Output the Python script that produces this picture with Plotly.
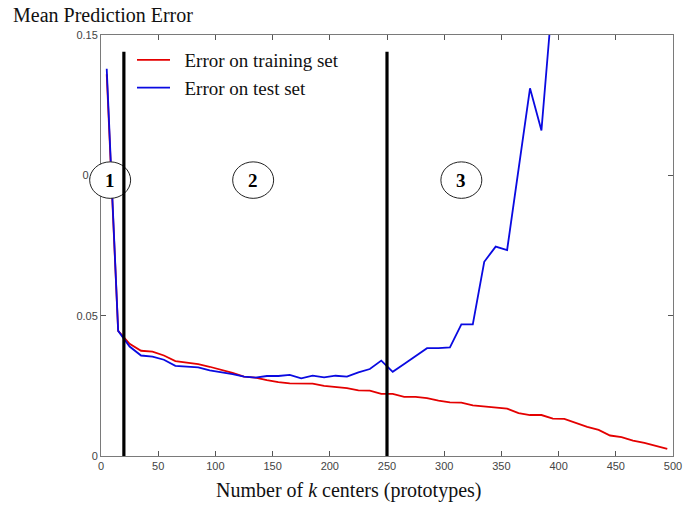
import plotly.graph_objects as go

# Number of k centers (prototypes)
k_centers = list(range(5, 500, 10))

# Mean prediction error on the training set
train_error = [
    0.136, 0.0446, 0.0400, 0.0375, 0.0372, 0.0358, 0.0338, 0.0332, 0.0327, 0.0318,
    0.0308, 0.0296, 0.0283, 0.0279, 0.0270, 0.0263, 0.0259, 0.0259, 0.0258, 0.0250,
    0.0247, 0.0242, 0.0234, 0.0233, 0.0221, 0.0221, 0.0211, 0.0211, 0.0206, 0.0197,
    0.0191, 0.0190, 0.0180, 0.0176, 0.0173, 0.0169, 0.0153, 0.0146, 0.0146, 0.0133,
    0.0132, 0.0117, 0.0104, 0.0093, 0.0073, 0.0067, 0.0055, 0.0047, 0.0037, 0.0025,
]

# Mean prediction error on the test set (goes off the top of the axis past k=390)
test_k = k_centers[:40]
test_error = [
    0.138, 0.0446, 0.0390, 0.0358, 0.0354, 0.0343, 0.0321, 0.0318, 0.0316, 0.0305,
    0.0299, 0.0292, 0.0283, 0.0279, 0.0285, 0.0285, 0.0289, 0.0277, 0.0286, 0.0280,
    0.0286, 0.0283, 0.0298, 0.0310, 0.0340, 0.0300, 0.0328, 0.0356, 0.0384, 0.0384,
    0.0387, 0.0469, 0.0469, 0.0692, 0.0746, 0.0734, 0.1030, 0.1310, 0.1160, 0.1650,
]

# Region boundaries and region markers
boundaries = [20, 250]
region_labels = ["1", "2", "3"]
region_x = [8, 133, 315]
region_y = 0.0983

x_range = [0, 500]
y_range = [0, 0.15]
x_ticks = [0, 50, 100, 150, 200, 250, 300, 350, 400, 450, 500]
y_ticks = [0, 0.05, 0.1, 0.15]
y_ticktext = ["0", "0.05", "0.1", "0.15"]

serif = "Liberation Serif, Times New Roman, serif"
sans = "Liberation Sans, Arial, sans-serif"

W, H = 685, 507
ML, MR, MT, MB = 101, 12, 35, 51
PW, PH = W - ML - MR, H - MT - MB


def px_to_paper(px, py):
    """Convert figure pixel coordinates to plot-area paper coordinates."""
    return (px - ML) / PW, (H - MB - py) / PH


def data_to_paper(x, y):
    return ((x - x_range[0]) / (x_range[1] - x_range[0]),
            (y - y_range[0]) / (y_range[1] - y_range[0]))


fig = go.Figure()
fig.add_trace(go.Scatter(
    x=k_centers, y=train_error, mode="lines",
    name="\u00a0\u00a0Error on training set",
    line=dict(color="rgb(228,0,0)", width=1.8),
))
fig.add_trace(go.Scatter(
    x=test_k, y=test_error, mode="lines",
    name="\u00a0\u00a0Error on test set",
    line=dict(color="rgb(10,10,225)", width=1.8),
))

shapes = []
# circled region numbers, in paper units so they may overhang the axis
rx, ry = 17.9 / (x_range[1] - x_range[0]), 0.0065 / (y_range[1] - y_range[0])
for cx in region_x:
    px, py = data_to_paper(cx, region_y)
    shapes.append(dict(
        type="circle", xref="paper", yref="paper", layer="above",
        x0=px - rx, x1=px + rx, y0=py - ry, y1=py + ry,
        line=dict(color="#222", width=1), fillcolor="white",
    ))
# thick vertical boundaries
for bx in boundaries:
    shapes.append(dict(
        type="line", xref="x", yref="y", layer="above",
        x0=bx, x1=bx, y0=0, y1=0.144,
        line=dict(color="black", width=3.2),
    ))

annotations = []
for lbl, cx in zip(region_labels, region_x):
    annotations.append(dict(
        x=cx, y=region_y, xref="x", yref="y", text="<b>%s</b>" % lbl,
        showarrow=False, font=dict(family=serif, size=19, color="black"),
    ))

tx, ty = px_to_paper(11, 15)
annotations.append(dict(
    x=tx, y=ty, xref="paper", yref="paper", xanchor="left", yanchor="middle",
    text="Mean Prediction Error", showarrow=False,
    font=dict(family=serif, size=20, color="#111"),
))
lx, ly = px_to_paper(348, 490)
annotations.append(dict(
    x=lx, y=ly, xref="paper", yref="paper", xanchor="center", yanchor="middle",
    text="Number of <i>k</i> centers (prototypes)", showarrow=False,
    font=dict(family=serif, size=20, color="#111"),
))

axis_common = dict(
    showgrid=False, zeroline=False, showline=True, linecolor="#7a7a7a",
    linewidth=1, mirror="ticks", ticks="inside", ticklen=5, automargin=False,
    tickcolor="#555", tickfont=dict(family=sans, size=11, color="#444"),
)

gx, gy = px_to_paper(132, 41)
fig.update_layout(
    width=W, height=H,
    margin=dict(l=ML, r=MR, t=MT, b=MB),
    paper_bgcolor="white", plot_bgcolor="white",
    xaxis=dict(range=x_range, tickvals=x_ticks, **axis_common),
    yaxis=dict(range=y_range, tickvals=y_ticks, ticktext=y_ticktext, **axis_common),
    shapes=shapes, annotations=annotations,
    showlegend=True,
    legend=dict(
        x=gx, y=gy, xanchor="left", yanchor="top",
        bgcolor="rgba(0,0,0,0)", borderwidth=0,
        font=dict(family=serif, size=19, color="#111"),
        itemwidth=33, tracegroupgap=0,
    ),
)

fig.write_html("out.html")
